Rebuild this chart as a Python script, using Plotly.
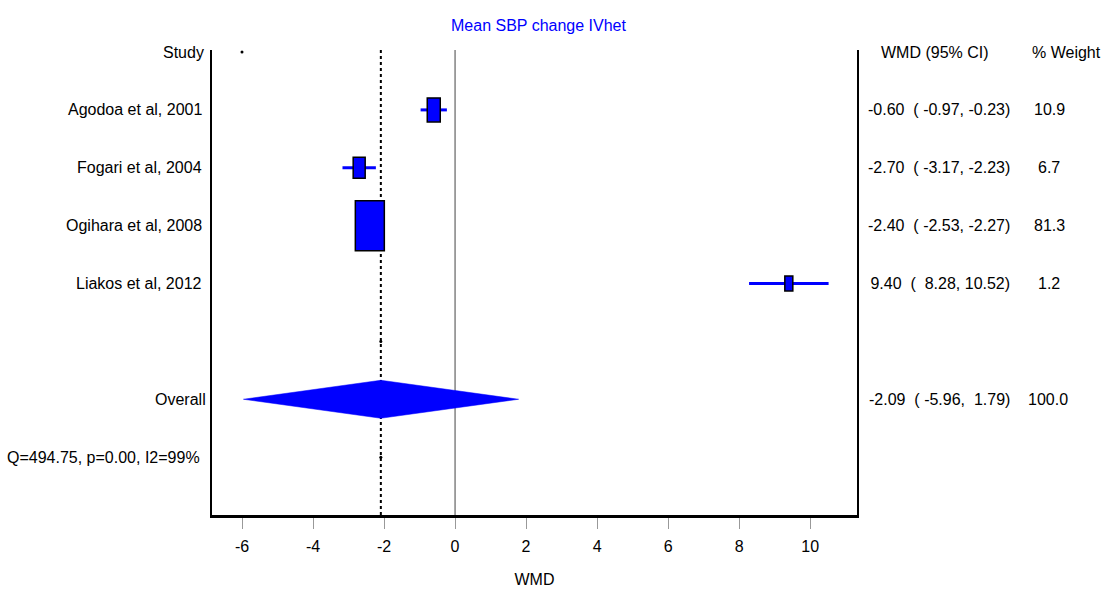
import plotly.graph_objects as go

# ---------------- data ----------------
studies = ["Agodoa et al, 2001", "Fogari et al, 2004", "Ogihara et al, 2008", "Liakos et al, 2012"]
wmd = [-0.60, -2.70, -2.40, 9.40]
ci_low = [-0.97, -3.17, -2.53, 8.28]
ci_high = [-0.23, -2.23, -2.27, 10.52]
weights = [10.9, 6.7, 81.3, 1.2]
overall_label = "Overall"
overall_wmd = -2.09
overall_low = -5.96
overall_high = 1.79
overall_weight = 100.0
het_text = "Q=494.75, p=0.00, I2=99%"
x_ticks = [-6, -4, -2, 0, 2, 4, 6, 8, 10]
title_text = "Mean SBP change IVhet"
x_title = "WMD"

# ---------------- style ----------------
W, H = 1107, 589
L, R, T, B = 212, 857, 50, 515
XR = [-6.845, 11.32]
YR = [8.0, -0.035]
px_per_x = (R - L) / (XR[1] - XR[0])
px_per_row = (B - T) / (YR[0] - YR[1])
box_w_px = [13, 12, 29, 8]
box_h_px = [24, 21, 50, 15]
BLUE = "#0000FF"
FONT = "Liberation Sans, Arial, sans-serif"
FS = 16

study_rows = [1, 2, 3, 4]
overall_row = 6
het_row = 7


def paper_x(p):
    return (p - L) / (R - L)


fig = go.Figure()

# CI lines
for i, r in enumerate(study_rows):
    fig.add_trace(go.Scatter(x=[ci_low[i], ci_high[i]], y=[r, r], mode="lines",
                             line=dict(color=BLUE, width=3), hoverinfo="skip", showlegend=False))

# overall diamond
dh = 19 / px_per_row
fig.add_trace(go.Scatter(
    x=[overall_low, overall_wmd, overall_high, overall_wmd, overall_low],
    y=[overall_row, overall_row - dh, overall_row, overall_row + dh, overall_row],
    mode="lines", fill="toself", fillcolor=BLUE, line=dict(color=BLUE, width=0.5),
    hoverinfo="skip", showlegend=False))

# small stray dots
fig.add_trace(go.Scatter(x=[x_ticks[0], overall_wmd, overall_wmd], y=[0, 5, 7], mode="markers",
                         marker=dict(color="black", size=3), hoverinfo="skip", showlegend=False))

shapes = []
# null line and overall dashed line
shapes.append(dict(type="line", xref="x", yref="paper", x0=0, x1=0, y0=0, y1=1,
                   line=dict(color="#444444", width=1), layer="below"))
shapes.append(dict(type="line", xref="x", yref="paper", x0=overall_wmd, x1=overall_wmd, y0=0, y1=1,
                   line=dict(color="black", width=2, dash="dot"), layer="below"))
# boxes
for i, r in enumerate(study_rows):
    hw = box_w_px[i] / 2 / px_per_x
    hh = box_h_px[i] / 2 / px_per_row
    shapes.append(dict(type="rect", xref="x", yref="y", x0=wmd[i] - hw, x1=wmd[i] + hw,
                       y0=r - hh, y1=r + hh, fillcolor=BLUE,
                       line=dict(color="black", width=1.5), layer="above"))

ann = []


def text(x, y, s, anchor, color="black", yref="y", xref="paper", size=FS):
    ann.append(dict(x=x, y=y, xref=xref, yref=yref, text=s, showarrow=False,
                    xanchor=anchor, yanchor="middle",
                    font=dict(family=FONT, size=size, color=color)))


# left labels
text(paper_x(206), 0, "Study", "right")
for i, r in enumerate(study_rows):
    text(paper_x(204), r, studies[i], "right")
text(paper_x(208), overall_row, overall_label, "right")
text(paper_x(202), het_row, het_text, "right")

# right columns
NB = "\u00a0"


def ci_str(e, lo, hi):
    s = f"{e:5.2f}  ({lo:6.2f},{hi:6.2f})"
    return s.replace(" ", NB)


text(paper_x(935), 0, "WMD (95% CI)", "center")
text(paper_x(1066), 0, "% Weight", "center")
for i, r in enumerate(study_rows):
    text(paper_x(1012), r, ci_str(wmd[i], ci_low[i], ci_high[i]), "right")
    text(paper_x(1049), r, f"{weights[i]:.1f}", "center")
text(paper_x(1012), overall_row, ci_str(overall_wmd, overall_low, overall_high), "right")
text(paper_x(1048), overall_row, f"{overall_weight:.1f}", "center")

# title
ann.append(dict(x=paper_x(538), y=1 + (T - 25) / (B - T),
                xref="paper", yref="paper", text=title_text, showarrow=False,
                xanchor="center", yanchor="middle",
                font=dict(family=FONT, size=FS, color=BLUE)))

fig.update_layout(
    width=W, height=H,
    margin=dict(l=L, r=W - R, t=T, b=H - B, pad=0, autoexpand=False),
    paper_bgcolor="white", plot_bgcolor="white",
    showlegend=False,
    shapes=shapes, annotations=ann,
    font=dict(family=FONT, size=FS, color="black"),
    xaxis=dict(range=XR, tickmode="array", tickvals=x_ticks, ticktext=[str(t) for t in x_ticks],
               showgrid=False, zeroline=False, showline=True, linecolor="black", linewidth=3,
               ticks="outside", ticklen=11, tickwidth=1, tickcolor="#999999",
               ticklabelstandoff=4, automargin=False,
               tickfont=dict(family=FONT, size=FS, color="black"),
               title=dict(text=x_title, font=dict(family=FONT, size=FS, color="black"), standoff=20)),
    yaxis=dict(range=YR, showgrid=False, zeroline=False, showticklabels=False, ticks="",
               showline=True, mirror=True, linecolor="black", linewidth=2, automargin=False),
)

fig.write_html("out.html")
